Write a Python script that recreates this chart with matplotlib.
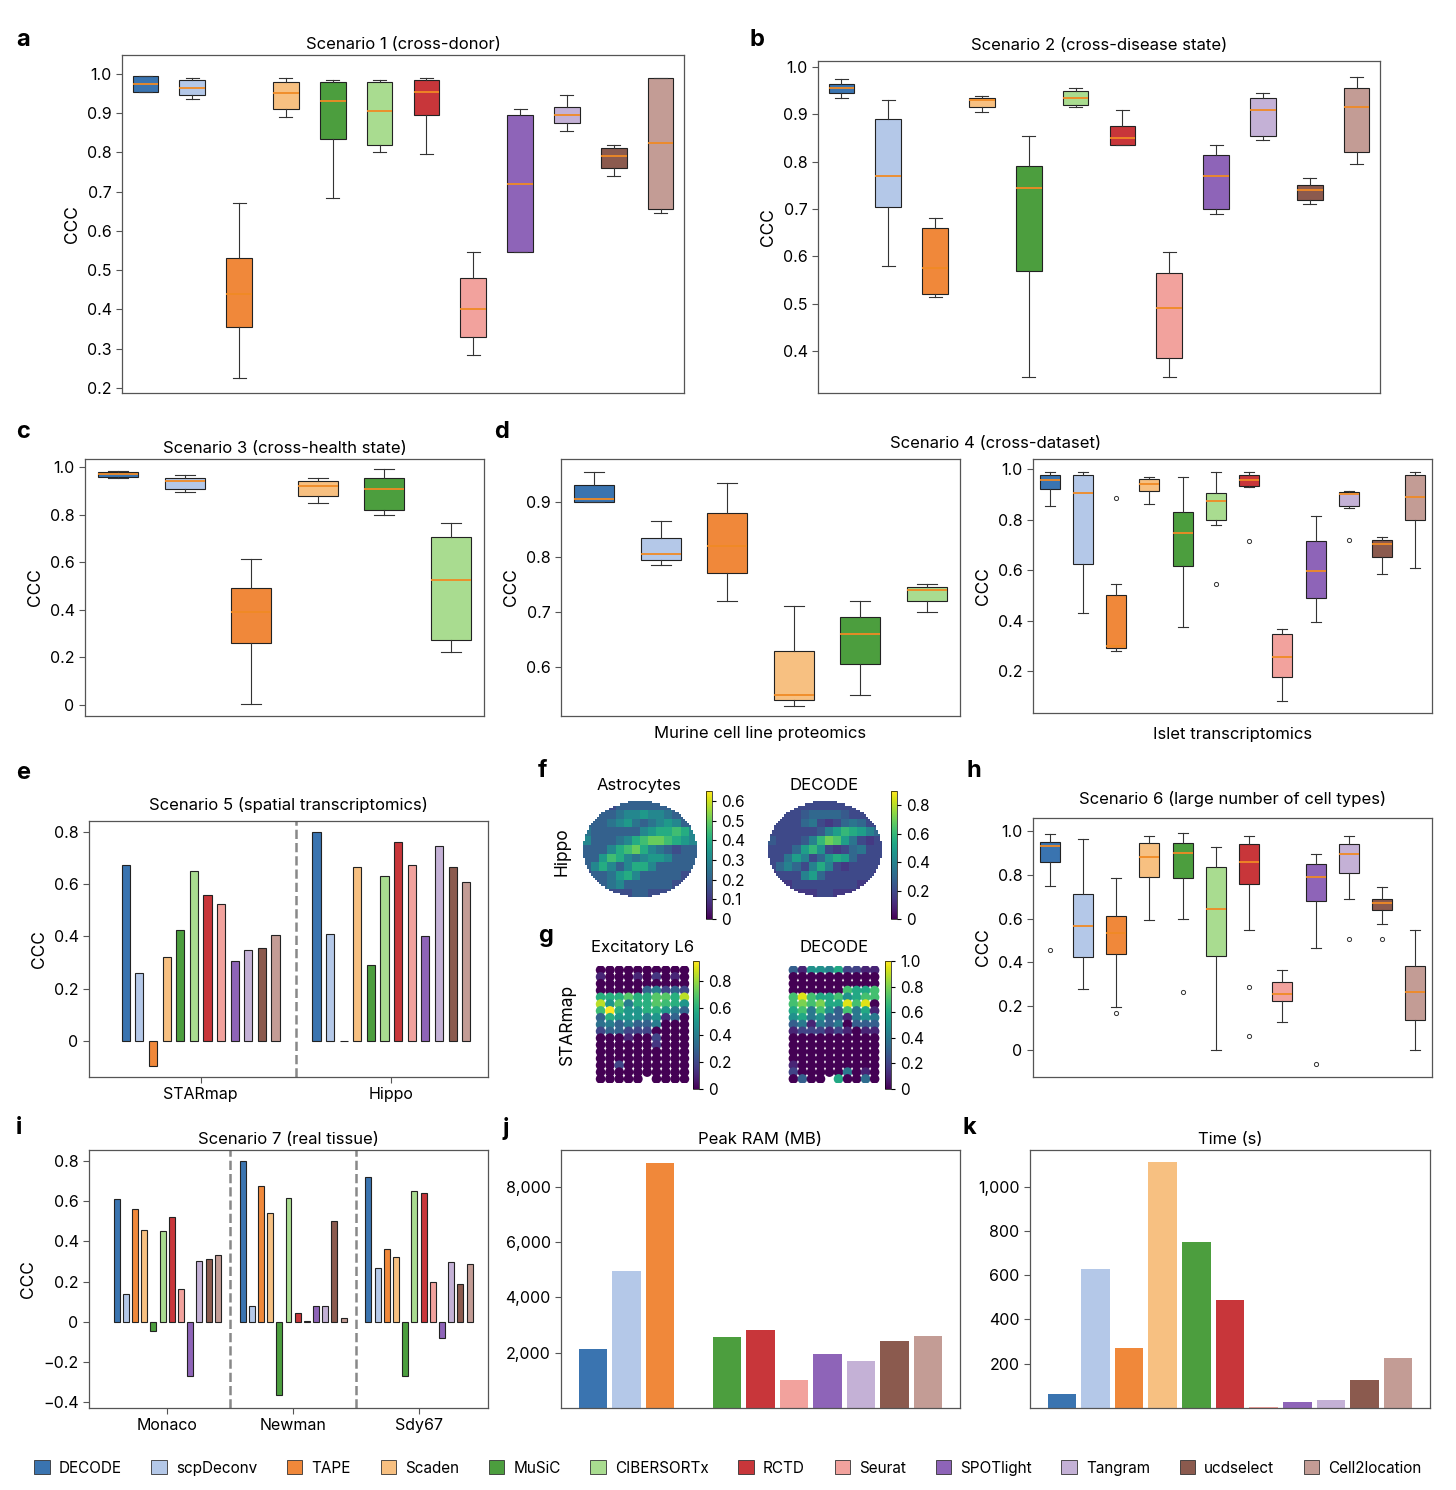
import numpy as np
import matplotlib
matplotlib.use('Agg')
import matplotlib.pyplot as plt
from matplotlib.patches import Patch

plt.rcParams['font.family'] = ['Inter', 'DejaVu Sans']
plt.rcParams['font.size'] = 12

W, H = 1456, 1490

# methods & colours
methods = ['DECODE', 'scpDeconv', 'TAPE', 'Scaden', 'MuSiC', 'CIBERSORTx',
           'RCTD', 'Seurat', 'SPOTlight', 'Tangram', 'ucdselect', 'Cell2location']
colors = ['#3a74b0', '#b4c8e8', '#f0883a', '#f7c081', '#4c9e3e', '#a9dc90',
          '#c8363a', '#f2a29d', '#8e64b8', '#c4b1d6', '#8b5a4e', '#c39c95']
cmap = dict(zip(methods, colors))

# box stats: [whislo, q1, med, q3, whishi]
s1 = [[0.955, 0.955, 0.975, 0.995, 0.995], [0.935, 0.945, 0.965, 0.985, 0.99],
      [0.225, 0.355, 0.44, 0.53, 0.67], [0.89, 0.91, 0.95, 0.98, 0.99],
      [0.685, 0.835, 0.93, 0.98, 0.985], [0.80, 0.82, 0.905, 0.98, 0.985],
      [0.795, 0.895, 0.955, 0.985, 0.99], [0.285, 0.33, 0.40, 0.48, 0.545],
      [0.545, 0.545, 0.72, 0.895, 0.91], [0.855, 0.875, 0.895, 0.915, 0.945],
      [0.74, 0.76, 0.79, 0.81, 0.82], [0.645, 0.655, 0.825, 0.99, 0.99]]
s2 = [[0.935, 0.945, 0.955, 0.965, 0.975], [0.58, 0.705, 0.77, 0.89, 0.93],
      [0.515, 0.52, 0.575, 0.66, 0.68], [0.905, 0.915, 0.93, 0.935, 0.94],
      [0.345, 0.57, 0.745, 0.79, 0.855], [0.915, 0.92, 0.935, 0.95, 0.955],
      [0.835, 0.835, 0.85, 0.875, 0.91], [0.345, 0.385, 0.49, 0.565, 0.61],
      [0.69, 0.70, 0.77, 0.815, 0.835], [0.845, 0.855, 0.91, 0.935, 0.945],
      [0.71, 0.72, 0.74, 0.75, 0.765], [0.795, 0.82, 0.915, 0.955, 0.98]]
s3 = [[0.955, 0.96, 0.97, 0.98, 0.985], [0.895, 0.91, 0.94, 0.955, 0.965],
      [0.005, 0.26, 0.39, 0.49, 0.615], [0.85, 0.88, 0.92, 0.94, 0.955],
      [0.80, 0.82, 0.91, 0.955, 0.99], [0.225, 0.275, 0.525, 0.705, 0.765]]
s4_murine = [[0.90, 0.90, 0.905, 0.93, 0.955], [0.785, 0.795, 0.805, 0.835, 0.865],
             [0.72, 0.77, 0.82, 0.88, 0.935], [0.53, 0.54, 0.55, 0.63, 0.71],
             [0.55, 0.605, 0.66, 0.69, 0.72], [0.70, 0.72, 0.74, 0.745, 0.75]]
s4_islet = [[0.855, 0.92, 0.955, 0.975, 0.99], [0.43, 0.625, 0.905, 0.975, 0.99],
            [0.28, 0.29, 0.30, 0.50, 0.545], [0.86, 0.915, 0.94, 0.96, 0.97],
            [0.375, 0.615, 0.745, 0.83, 0.97], [0.78, 0.80, 0.875, 0.905, 0.99],
            [0.93, 0.935, 0.955, 0.975, 0.99], [0.08, 0.175, 0.255, 0.345, 0.365],
            [0.395, 0.49, 0.595, 0.715, 0.815], [0.845, 0.855, 0.90, 0.91, 0.915],
            [0.585, 0.65, 0.705, 0.72, 0.73], [0.61, 0.80, 0.89, 0.975, 0.99]]
s4_islet_fl = [[], [], [0.885], [], [], [0.545], [0.715], [], [], [0.72], [], []]
s6 = [[0.75, 0.86, 0.93, 0.95, 0.985], [0.28, 0.425, 0.565, 0.71, 0.965],
      [0.195, 0.44, 0.535, 0.61, 0.785], [0.595, 0.79, 0.88, 0.945, 0.975],
      [0.60, 0.785, 0.90, 0.945, 0.99], [0.0, 0.43, 0.645, 0.835, 0.925],
      [0.55, 0.76, 0.86, 0.94, 0.975], [0.13, 0.225, 0.255, 0.31, 0.365],
      [0.465, 0.68, 0.79, 0.85, 0.895], [0.69, 0.81, 0.895, 0.94, 0.975],
      [0.575, 0.64, 0.67, 0.69, 0.745], [0.0, 0.135, 0.265, 0.385, 0.55]]
s6_fl = [[0.455], [], [0.17], [], [0.265], [], [0.29, 0.065], [], [-0.065], [0.505], [0.505], []]

# bar data
s5_groups = ['STARmap', 'Hippo']
s5_vals = [[0.675, 0.26, -0.095, 0.32, 0.425, 0.65, 0.56, 0.525, 0.305, 0.35, 0.355, 0.405],
           [0.80, 0.41, 0.0, 0.665, 0.29, 0.63, 0.76, 0.675, 0.40, 0.745, 0.665, 0.61]]
s7_groups = ['Monaco', 'Newman', 'Sdy67']
s7_vals = [[0.61, 0.14, 0.56, 0.455, -0.045, 0.45, 0.52, 0.165, -0.27, 0.30, 0.31, 0.33],
           [0.80, 0.08, 0.675, 0.54, -0.365, 0.615, 0.045, 0.005, 0.08, 0.08, 0.50, 0.02],
           [0.72, 0.265, 0.36, 0.32, -0.27, 0.65, 0.64, 0.20, -0.08, 0.295, 0.19, 0.285]]
res_methods = ['DECODE', 'scpDeconv', 'TAPE', 'Scaden', 'MuSiC', 'RCTD', 'Seurat',
               'SPOTlight', 'Tangram', 'ucdselect', 'Cell2location']
ram_mb = [2150, 4950, 8850, np.nan, 2580, 2820, 1000, 1950, 1700, 2420, 2620]
time_s = [65, 630, 270, 1110, 750, 490, 5, 25, 35, 125, 225]

# spatial maps (coarse)
hippo_astro = np.array([
    [.15, .15, .15, .15, .2, .2, .2, .2, .2, .2, .2, .15, .15, .15],
    [.2, .2, .2, .2, .25, .3, .3, .35, .3, .3, .25, .2, .2, .2],
    [.2, .2, .2, .25, .3, .35, .25, .2, .25, .3, .35, .3, .2, .2],
    [.25, .2, .2, .2, .2, .2, .2, .3, .35, .4, .4, .45, .4, .3],
    [.3, .2, .2, .2, .25, .3, .4, .45, .5, .5, .45, .4, .35, .3],
    [.2, .2, .2, .3, .4, .45, .5, .4, .3, .25, .2, .15, .2, .2],
    [.2, .2, .35, .45, .4, .3, .25, .3, .35, .35, .3, .2, .2, .2],
    [.2, .3, .4, .3, .2, .3, .4, .4, .3, .2, .2, .2, .2, .2],
    [.15, .2, .2, .25, .35, .4, .3, .2, .2, .2, .2, .2, .15, .15],
    [.15, .15, .2, .25, .3, .2, .2, .2, .2, .2, .2, .15, .15, .15],
    [.1, .1, .15, .15, .15, .15, .2, .2, .15, .15, .15, .1, .1, .1]])
hippo_decode = np.array([
    [.2, .2, .2, .2, .2, .2, .2, .2, .2, .2, .2, .2, .2, .2],
    [.2, .2, .2, .2, .25, .3, .3, .3, .3, .25, .2, .2, .2, .2],
    [.2, .2, .2, .2, .3, .35, .2, .15, .2, .3, .35, .3, .2, .2],
    [.2, .2, .2, .2, .2, .2, .25, .4, .5, .6, .55, .5, .4, .3],
    [.25, .2, .2, .2, .25, .4, .6, .7, .65, .5, .35, .2, .15, .2],
    [.2, .2, .2, .3, .5, .6, .45, .2, .15, .2, .3, .35, .2, .2],
    [.2, .2, .35, .5, .4, .2, .3, .45, .55, .5, .3, .2, .2, .2],
    [.2, .3, .4, .3, .2, .4, .55, .4, .2, .15, .2, .2, .2, .2],
    [.15, .2, .2, .2, .4, .5, .3, .2, .2, .2, .2, .2, .2, .15],
    [.15, .15, .15, .2, .2, .2, .2, .2, .2, .2, .2, .15, .15, .15],
    [.1, .1, .15, .15, .15, .15, .2, .2, .15, .15, .15, .1, .1, .1]])
star_exc = np.array([
    [0, 0, 0, 0, 0, 0, 0, 0, 0, 0],
    [.1, 0, 0, 0, .1, 0, .15, 0, .1, 0],
    [0, 0, 0, 0, 0, 0, 0, 0, 0, 0],
    [0, 0, 0, 0, 0, .3, .4, .2, .3, .2],
    [.6, .6, .6, .7, .6, .6, .7, .7, .6, .85],
    [.85, .5, .7, .4, .6, .6, .7, .65, .6, .5],
    [.65, .95, .6, .5, .5, .6, .6, .5, .4, .3],
    [.3, .6, .5, .5, .5, .4, .5, .1, .3, 0],
    [.35, .4, .3, .4, .3, .3, .4, 0, 0, 0],
    [.2, .3, .3, .2, .2, .2, 0, 0, 0, 0],
    [0, 0, 0, .1, 0, 0, .2, 0, 0, 0],
    [0, 0, 0, 0, 0, 0, .15, 0, 0, 0],
    [0, 0, 0, 0, 0, 0, 0, 0, 0, 0],
    [0, 0, 0, 0, 0, 0, 0, 0, 0, 0],
    [0, 0, .2, 0, 0, 0, 0, 0, 0, 0],
    [0, 0, 0, 0, 0, 0, 0, 0, 0, 0],
    [0, 0, 0, 0, 0, np.nan, 0, 0, 0, 0]])
star_decode = np.array([
    [.3, .1, .5, .5, .45, .6, .2, .2, .1, .1],
    [0, 0, 0, 0, 0, 0, 0, 0, 0, 0],
    [0, 0, 0, 0, 0, 0, 0, 0, 0, 0],
    [0, 0, 0, 0, 0, 0, .7, .6, .6, .7],
    [.7, .95, .7, .6, .6, .7, .5, .6, .7, .7],
    [.7, .8, .7, .8, .6, .6, .95, .7, .95, 0],
    [.6, .7, .4, .7, .5, .3, .7, .4, .6, .1],
    [.5, .6, .4, .5, .3, .3, .1, .4, .5, .4],
    [.3, .4, .1, .4, .3, .4, 0, .3, .3, .3],
    [.1, .2, .2, .2, .1, .2, .1, 0, .1, .1],
    [0, 0, 0, 0, 0, 0, 0, 0, 0, 0],
    [0, 0, 0, 0, 0, 0, 0, 0, 0, 0],
    [0, 0, 0, 0, 0, 0, 0, 0, 0, 0],
    [0, 0, 0, 0, 0, 0, 0, 0, 0, 0],
    [.1, 0, 0, 0, 0, 0, 0, 0, 0, 0],
    [.2, 0, 0, 0, 0, 0, .4, 0, .1, 0],
    [0, .3, 0, 0, np.nan, .6, 0, 0, .35, 0]])

fig = plt.figure(figsize=(W / 100, H / 100), dpi=100)


def px(x0, y0, x1, y1):
    return fig.add_axes([x0 / W, 1 - y1 / H, (x1 - x0) / W, (y1 - y0) / H])


def style(ax):
    for s in ax.spines.values():
        s.set_color('#555555')
        s.set_linewidth(0.9)
    ax.tick_params(labelsize=11.5, length=4, width=0.8, color='#555555')


def fmt(v):
    return '0' if v == 0 else f'{v:.1f}'.replace('-', '\u2212')


def boxes(ax, stats, names, fliers=None, width=0.55):
    bs = []
    for i, s in enumerate(stats):
        bs.append(dict(whislo=s[0], q1=s[1], med=s[2], q3=s[3], whishi=s[4],
                       fliers=fliers[i] if fliers else []))
    out = ax.bxp(bs, positions=range(1, len(bs) + 1), widths=width, patch_artist=True,
                 medianprops=dict(color='#f08a24', lw=1.3),
                 whiskerprops=dict(color='#333', lw=0.8), capprops=dict(color='#333', lw=0.8),
                 boxprops=dict(edgecolor='#222', lw=0.8),
                 flierprops=dict(marker='o', ms=3, mfc='none', mec='#333', mew=0.7))
    for p, n in zip(out['boxes'], names):
        p.set_facecolor(cmap[n])
    ax.set_xlim(0.5, len(bs) + 0.5)
    ax.set_xticks([])
    style(ax)


def yt(ax, ticks, lim):
    ax.set_ylim(*lim)
    ax.set_yticks(ticks)
    ax.set_yticklabels([fmt(t) for t in ticks])


def letter(x, y, t):
    fig.text(x / W, 1 - y / H, t, fontsize=17, fontweight='bold', ha='left', va='center')


TS = 12

# a
ax = px(122, 55, 684, 393)
boxes(ax, s1, methods)
yt(ax, [0.2, 0.3, 0.4, 0.5, 0.6, 0.7, 0.8, 0.9, 1.0], (0.187, 1.048))
ax.set_title('Scenario 1 (cross-donor)', fontsize=TS, pad=4)
ax.set_ylabel('CCC', fontsize=12.5)
letter(16, 40, 'a')

# b
ax = px(818, 61, 1380, 393)
boxes(ax, s2, methods)
yt(ax, [0.4, 0.5, 0.6, 0.7, 0.8, 0.9, 1.0], (0.311, 1.013))
ax.set_title('Scenario 2 (cross-disease state)', fontsize=TS, pad=8)
ax.set_ylabel('CCC', fontsize=12.5)
letter(750, 40, 'b')

# c
ax = px(85, 459, 484, 716)
boxes(ax, s3, methods[:6], width=0.6)
yt(ax, [0, 0.2, 0.4, 0.6, 0.8, 1.0], (-0.046, 1.034))
ax.set_title('Scenario 3 (cross-health state)', fontsize=TS, pad=4)
ax.set_ylabel('CCC', fontsize=12.5)
letter(16, 432, 'c')

# d
ax = px(561, 459, 960, 716)
boxes(ax, s4_murine, methods[:6], width=0.6)
yt(ax, [0.6, 0.7, 0.8, 0.9], (0.511, 0.978))
ax.set_ylabel('CCC', fontsize=12.5)
ax.set_xlabel('Murine cell line proteomics', fontsize=TS, labelpad=7)
ax = px(1033, 459, 1432, 713)
boxes(ax, s4_islet, methods, s4_islet_fl, width=0.6)
yt(ax, [0.2, 0.4, 0.6, 0.8, 1.0], (0.034, 1.04))
ax.set_ylabel('CCC', fontsize=12.5)
ax.set_xlabel('Islet transcriptomics', fontsize=TS, labelpad=10)
fig.text(996 / W, 1 - 443 / H, 'Scenario 4 (cross-dataset)', fontsize=TS, ha='center', va='center')
letter(494, 432, 'd')


def grouped(ax, groups, vals, gap, width):
    n = len(methods)
    centers = []
    for g, row in enumerate(vals):
        x = np.arange(n) + g * gap
        ax.bar(x, row, width=width, color=colors, edgecolor='#222', linewidth=0.8)
        centers.append(x.mean())
        if g > 0:
            ax.axvline(g * gap - (gap - n + 1) / 2, color='#888', ls='--', lw=1.8)
    ax.set_xticks(centers)
    ax.set_xticklabels(groups, fontsize=TS)
    style(ax)


# e
ax = px(89, 821, 488, 1077)
grouped(ax, s5_groups, s5_vals, 14, 0.6)
ax.set_xlim(-2.7, 26.6)
yt(ax, [0, 0.2, 0.4, 0.6, 0.8], (-0.138, 0.842))
ax.set_title('Scenario 5 (spatial transcriptomics)', fontsize=TS, pad=8)
ax.set_ylabel('CCC', fontsize=12.5)
letter(16, 773, 'e')

# f / g spatial maps


def hippo_map(rect, mat, vmax, ticks, cbrect, title, ylab=None):
    ax = px(*rect)
    rep = 4
    fine = np.kron(mat, np.ones((rep, rep)))
    nr, nc = fine.shape
    yy, xx = np.mgrid[0:nr, 0:nc]
    cx, cy = (nc - 1) / 2, (nr - 1) / 2
    inside = ((xx - cx) / (nc / 2)) ** 2 + ((yy - cy) / (nr / 2)) ** 2 <= 1.0
    sc = ax.scatter(xx[inside], yy[inside], c=fine[inside], cmap='viridis', vmin=0, vmax=vmax,
                    s=2.6, marker='s', linewidths=0)
    ax.set_xlim(-3, nc + 1)
    ax.set_ylim(nr + 3, -2)
    ax.axis('off')
    ax.set_title(title, fontsize=TS, pad=6)
    if ylab:
        ax.text(-0.06, 0.5, ylab, transform=ax.transAxes, rotation=90, ha='right', va='center', fontsize=12.5)
    cax = px(*cbrect)
    cb = fig.colorbar(sc, cax=cax, ticks=ticks)
    cb.ax.set_yticklabels([fmt(t) for t in ticks])
    cb.ax.tick_params(labelsize=11, length=3)
    cb.outline.set_linewidth(0.5)


def star_map(rect, mat, vmax, ticks, cbrect, title, ylab=None):
    ax = px(*rect)
    nr, nc = mat.shape
    yy, xx = np.mgrid[0:nr, 0:nc]
    ok = ~np.isnan(mat)
    sc = ax.scatter(xx[ok], yy[ok], c=mat[ok], cmap='viridis', vmin=0, vmax=vmax,
                    s=48, linewidths=0)
    ax.set_xlim(-0.6, nc - 0.4)
    ax.set_ylim(nr - 0.4, -0.6)
    ax.axis('off')
    ax.set_title(title, fontsize=TS, pad=10)
    if ylab:
        ax.text(-0.2, 0.5, ylab, transform=ax.transAxes, rotation=90, ha='right', va='center', fontsize=12.5)
    cax = px(*cbrect)
    cb = fig.colorbar(sc, cax=cax, ticks=ticks)
    cb.ax.set_yticklabels([fmt(t) for t in ticks])
    cb.ax.tick_params(labelsize=11, length=3)
    cb.outline.set_linewidth(0.5)


hippo_map((578, 798, 700, 905), hippo_astro, 0.65, [0, .1, .2, .3, .4, .5, .6],
          (706, 791, 712, 919), 'Astrocytes', 'Hippo')
hippo_map((763, 798, 885, 905), hippo_decode, 0.9, [0, .2, .4, .6, .8],
          (891, 791, 897, 919), 'DECODE')
star_map((595, 966, 690, 1083), star_exc, 0.95, [0, .2, .4, .6, .8],
         (693, 961, 699, 1089), 'Excitatory L6', 'STARmap')
star_map((788, 966, 880, 1083), star_decode, 1.0, [0, .2, .4, .6, .8, 1.0],
         (885, 961, 891, 1089), 'DECODE')
letter(538, 771, 'f')
letter(538, 936, 'g')

# h
ax = px(1033, 818, 1432, 1077)
boxes(ax, s6, methods, s6_fl, width=0.6)
yt(ax, [0, 0.2, 0.4, 0.6, 0.8, 1.0], (-0.123, 1.059))
ax.set_title('Scenario 6 (large number of cell types)', fontsize=TS, pad=10)
ax.set_ylabel('CCC', fontsize=12.5)
letter(966, 771, 'h')

# i
ax = px(89, 1150, 488, 1408)
grouped(ax, s7_groups, s7_vals, 13.7, 0.65)
ax.set_xlim(-3.0, 40.4)
yt(ax, [-0.4, -0.2, 0, 0.2, 0.4, 0.6, 0.8], (-0.43, 0.855))
ax.set_title('Scenario 7 (real tissue)', fontsize=TS, pad=4)
ax.set_ylabel('CCC', fontsize=12.5)
letter(16, 1128, 'i')

# j
ax = px(561, 1150, 960, 1408)
ax.bar(range(len(res_methods)), ram_mb, width=0.85, color=[cmap[m] for m in res_methods])
ax.set_xlim(-0.95, 10.95)
ax.set_ylim(0, 9330)
ax.set_xticks([])
ax.set_yticks([2000, 4000, 6000, 8000])
ax.set_yticklabels(['2,000', '4,000', '6,000', '8,000'])
style(ax)
ax.set_title('Peak RAM (MB)', fontsize=TS, pad=4)
letter(503, 1128, 'j')

# k
ax = px(1030, 1150, 1430, 1408)
ax.bar(range(len(res_methods)), time_s, width=0.85, color=[cmap[m] for m in res_methods])
ax.set_xlim(-0.95, 10.95)
ax.set_ylim(0, 1166)
ax.set_xticks([])
ax.set_yticks([200, 400, 600, 800, 1000])
ax.set_yticklabels(['200', '400', '600', '800', '1,000'])
style(ax)
ax.set_title('Time (s)', fontsize=TS, pad=4)
letter(963, 1128, 'k')

handles = [Patch(facecolor=c, edgecolor='#333', lw=0.6, label=m) for m, c in zip(methods, colors)]
fig.legend(handles=handles, loc='center', bbox_to_anchor=(0.5, 1 - 1468 / H), ncol=12,
           frameon=False, fontsize=11, handlelength=1.0, handleheight=1.0,
           handletextpad=0.6, columnspacing=1.95)

fig.savefig('out.png', dpi=100)
